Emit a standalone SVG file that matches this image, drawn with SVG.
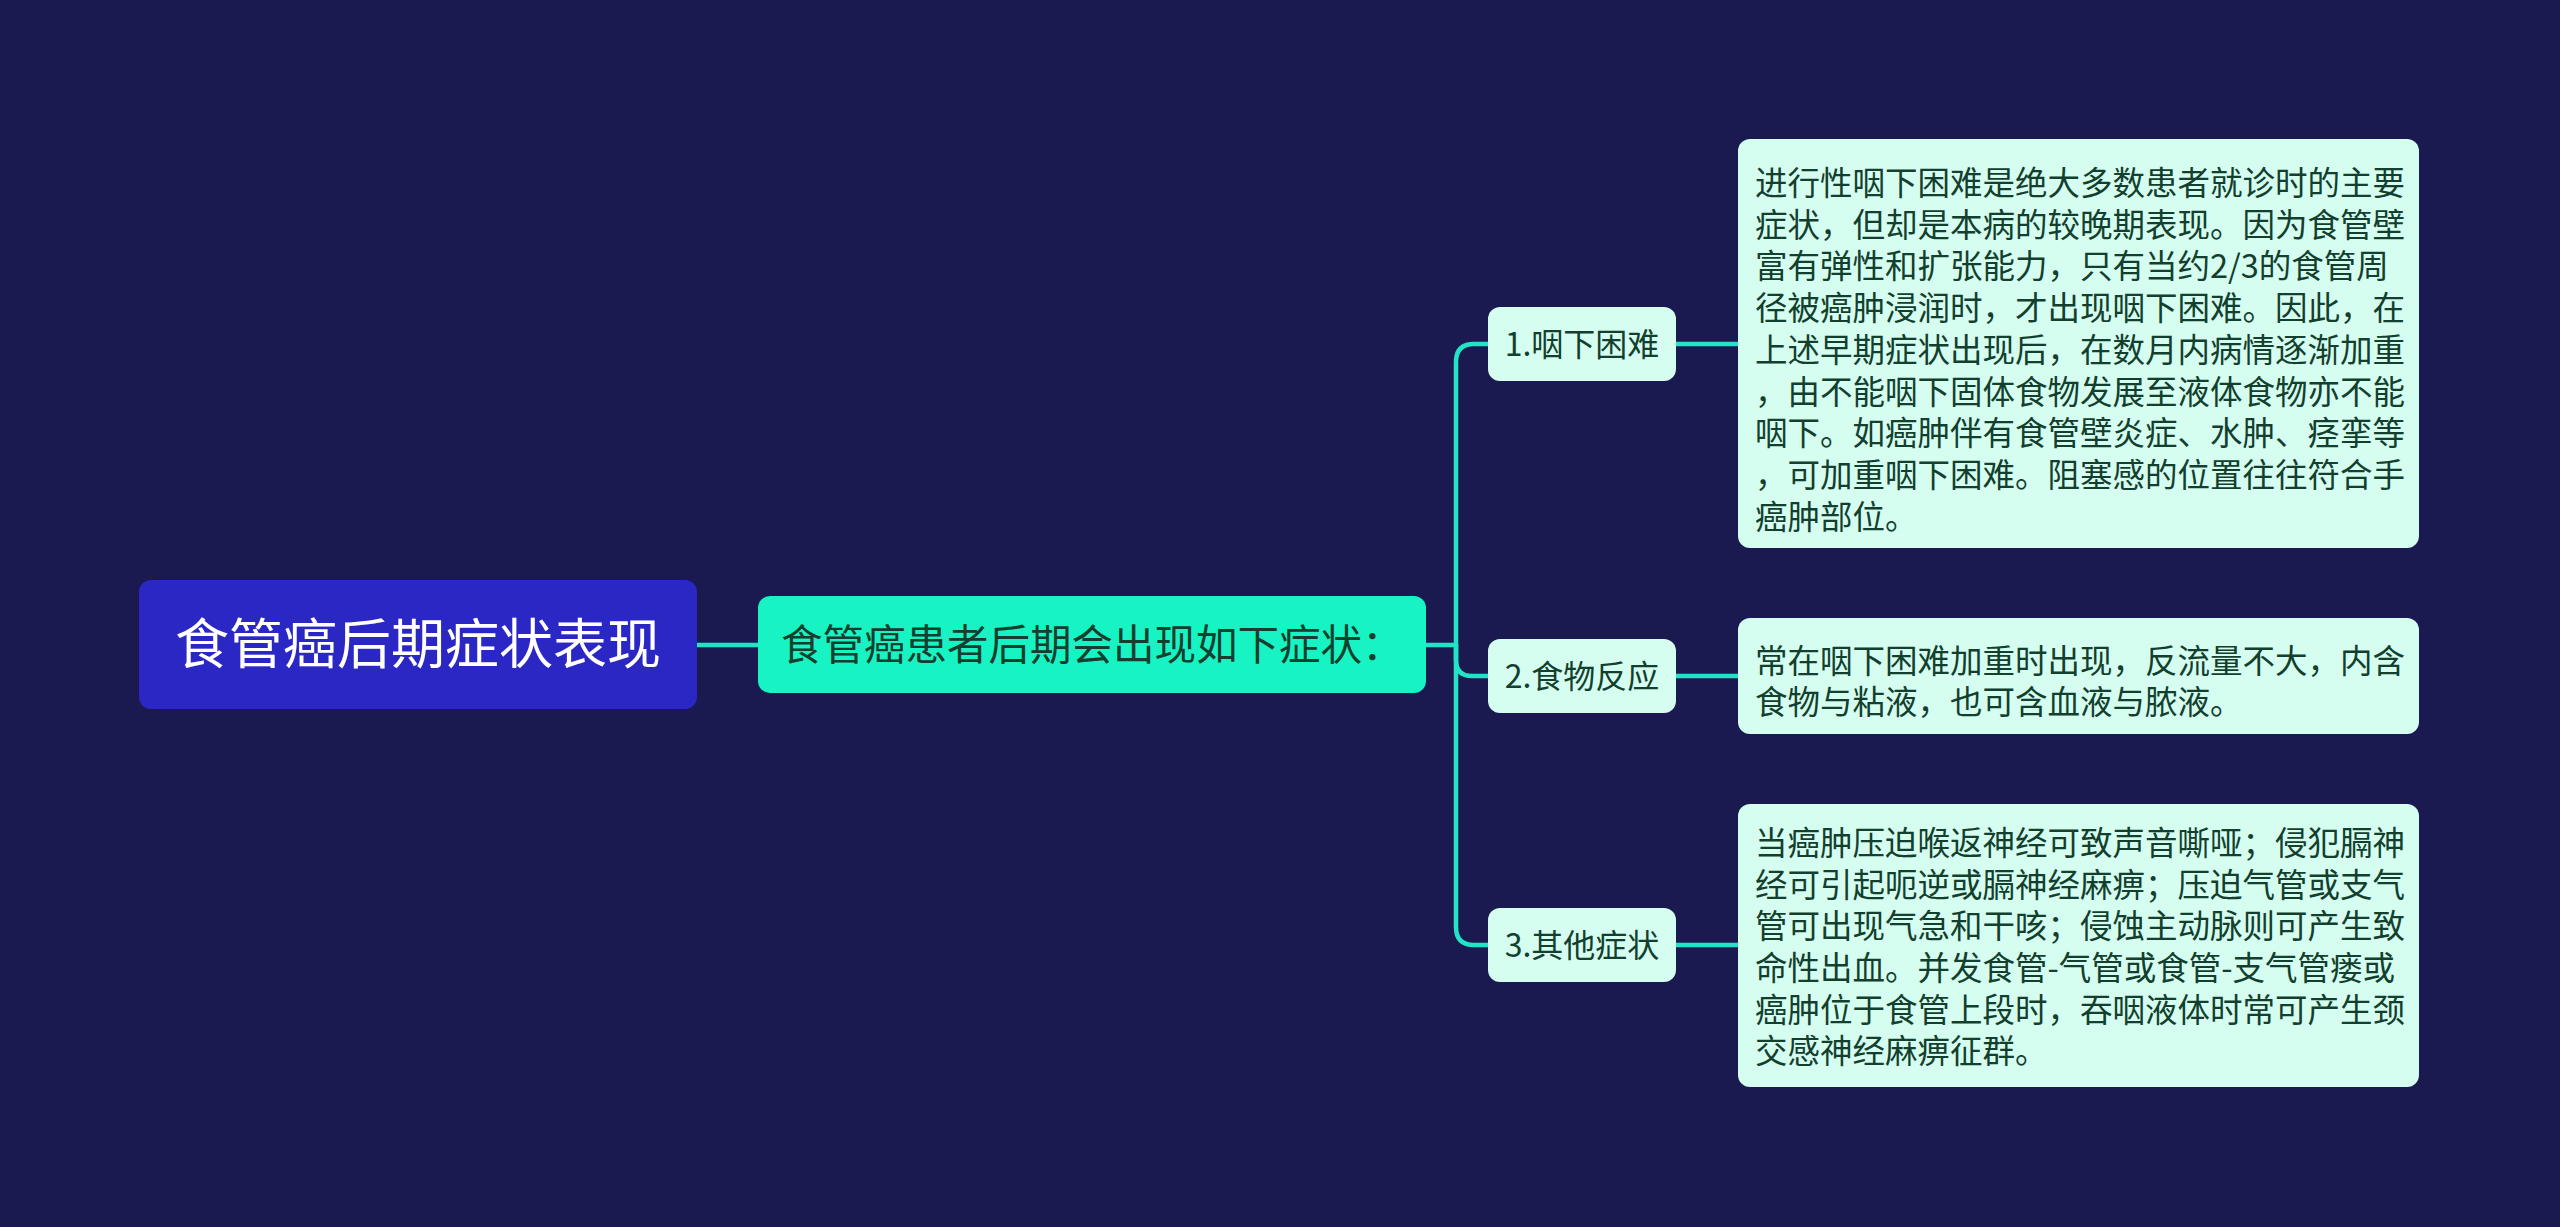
<svg xmlns="http://www.w3.org/2000/svg" width="2560" height="1227" viewBox="0 0 2560 1227">
<style>
.t{font-family:"Noto Sans CJK SC","Liberation Sans",sans-serif;}
.root{fill:#2a27c5;}
.mid{fill:#18f3c3;}
.leaf{fill:#d5fdf0;}
.tx{fill:#123f2e;font-size:32.5px;}
.nt{fill:#123f2e;font-size:32px;text-anchor:middle;}
.conn{fill:none;stroke:#22e3c6;stroke-width:4.5;stroke-linecap:round;}
</style>
<rect width="2560" height="1227" fill="#1b1a50"/>
<g id="connectors">
<path class="conn" d="M697 645 H758"/>
<path class="conn" d="M1426 645 H1456"/>
<path class="conn" d="M1456 645 V362 Q1456 344 1474 344 H1488"/>
<path class="conn" d="M1456 645 V660 Q1456 676 1472 676 H1488"/>
<path class="conn" d="M1456 645 V927 Q1456 945 1474 945 H1488"/>
<path class="conn" d="M1676 344 H1738"/>
<path class="conn" d="M1676 676 H1738"/>
<path class="conn" d="M1676 945 H1738"/>
</g>
<g id="root">
<rect class="root" x="139" y="580" width="558" height="129" rx="12"/>
<text class="t" x="418" y="664" fill="#ffffff" font-size="54" text-anchor="middle">食管癌后期症状表现</text>
</g>
<g id="middle">
<rect class="mid" x="758" y="596" width="668" height="97" rx="12"/>
<text class="t" x="781" y="660" fill="#123f2e" font-size="41.5">食管癌患者后期会出现如下症状：</text>
</g>
<g id="n1">
<rect class="leaf" x="1488" y="307" width="188" height="74" rx="12"/>
<text class="t nt" x="1582" y="356">1.咽下困难</text>
</g>
<g id="n2">
<rect class="leaf" x="1488" y="639" width="188" height="74" rx="12"/>
<text class="t nt" x="1582" y="688">2.食物反应</text>
</g>
<g id="n3">
<rect class="leaf" x="1488" y="908" width="188" height="74" rx="12"/>
<text class="t nt" x="1582" y="957">3.其他症状</text>
</g>
<g id="d1">
<rect class="leaf" x="1738" y="139" width="681" height="409" rx="12"/>
<text class="t tx">
<tspan x="1755" y="195">进行性咽下困难是绝大多数患者就诊时的主要</tspan>
<tspan x="1755" y="237">症状，但却是本病的较晚期表现。因为食管壁</tspan>
<tspan x="1755" y="278">富有弹性和扩张能力，只有当约2/3的食管周</tspan>
<tspan x="1755" y="320">径被癌肿浸润时，才出现咽下困难。因此，在</tspan>
<tspan x="1755" y="362">上述早期症状出现后，在数月内病情逐渐加重</tspan>
<tspan x="1755" y="404">，由不能咽下固体食物发展至液体食物亦不能</tspan>
<tspan x="1755" y="445">咽下。如癌肿伴有食管壁炎症、水肿、痉挛等</tspan>
<tspan x="1755" y="487">，可加重咽下困难。阻塞感的位置往往符合手</tspan>
<tspan x="1755" y="529">癌肿部位。</tspan>
</text>
</g>
<g id="d2">
<rect class="leaf" x="1738" y="618" width="681" height="116" rx="12"/>
<text class="t tx">
<tspan x="1755" y="673">常在咽下困难加重时出现，反流量不大，内含</tspan>
<tspan x="1755" y="714">食物与粘液，也可含血液与脓液。</tspan>
</text>
</g>
<g id="d3">
<rect class="leaf" x="1738" y="804" width="681" height="283" rx="12"/>
<text class="t tx">
<tspan x="1755" y="855">当癌肿压迫喉返神经可致声音嘶哑；侵犯膈神</tspan>
<tspan x="1755" y="897">经可引起呃逆或膈神经麻痹；压迫气管或支气</tspan>
<tspan x="1755" y="938">管可出现气急和干咳；侵蚀主动脉则可产生致</tspan>
<tspan x="1755" y="980">命性出血。并发食管-气管或食管-支气管瘘或</tspan>
<tspan x="1755" y="1022">癌肿位于食管上段时，吞咽液体时常可产生颈</tspan>
<tspan x="1755" y="1063">交感神经麻痹征群。</tspan>
</text>
</g>
</svg>
